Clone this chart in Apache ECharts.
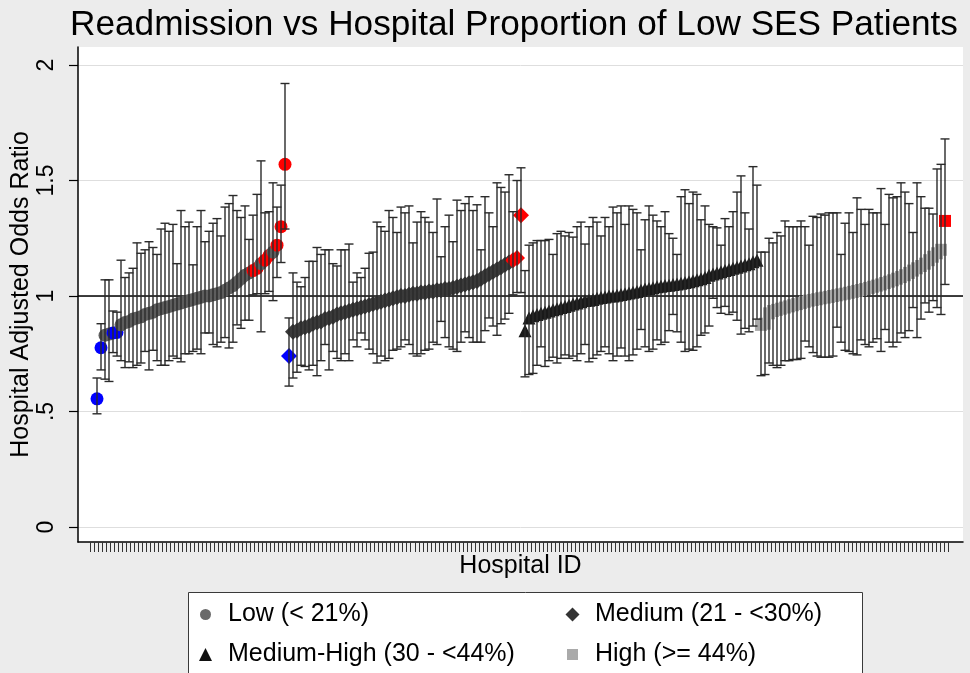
<!DOCTYPE html>
<html><head><meta charset="utf-8">
<script src="https://cdn.jsdelivr.net/npm/echarts@6/dist/echarts.min.js"></script>
<style>html,body{margin:0;padding:0;background:#ececec}#c{width:970px;height:673px}</style>
</head><body><div id="c"></div>
<script>
// ---- data ----
const groupNames = ['Low (< 21%)', 'Medium (21 - <30%)', 'Medium-High (30 - <44%)', 'High (>= 44%)'];
const yTickValues = [0, 0.5, 1, 1.5, 2];
const yTickLabels = ['0', '.5', '1', '1.5', '2'];
const hospitalTickCount = 215;

const lowStart = 1;
const lowEst = [0.555,0.776,0.83,0.835,0.84,0.842,0.875,0.885,0.89,0.90,0.905,0.91,0.92,0.925,0.93,0.94,0.945,0.95,0.955,0.96,0.965,0.97,0.975,0.98,0.985,0.99,0.995,1.0,1.0,1.005,1.01,1.015,1.025,1.035,1.045,1.06,1.075,1.09,1.10,1.11,1.12,1.14,1.155,1.175,1.19,1.22,1.30,1.57];
const lowLo = [0.49,0.68,0.64,0.63,0.755,0.74,0.72,0.69,0.715,0.69,0.70,0.71,0.76,0.68,0.765,0.72,0.70,0.70,0.72,0.74,0.73,0.715,0.75,0.75,0.76,0.77,0.75,0.84,0.84,0.79,0.78,0.80,0.82,0.775,0.80,0.875,0.86,0.895,0.895,1.005,1.01,0.845,1.01,1.02,0.98,1.08,1.145,1.29];
const lowHi = [0.645,0.88,1.07,1.07,0.935,0.93,1.155,1.08,1.10,1.12,1.23,1.185,1.20,1.235,1.21,1.18,1.29,1.315,1.28,1.31,1.14,1.37,1.30,1.32,1.135,1.30,1.37,1.235,1.28,1.315,1.335,1.26,1.385,1.40,1.435,1.37,1.34,1.39,1.245,1.35,1.44,1.585,1.36,1.365,1.49,1.385,1.48,1.92];

const medStart = 49;
const medEst = [0.74,0.845,0.85,0.86,0.865,0.87,0.88,0.885,0.89,0.90,0.905,0.91,0.92,0.925,0.93,0.935,0.94,0.945,0.95,0.955,0.96,0.965,0.97,0.975,0.98,0.985,0.99,0.995,1.0,1.0,1.005,1.01,1.01,1.015,1.015,1.02,1.02,1.025,1.025,1.03,1.03,1.035,1.04,1.045,1.05,1.055,1.06,1.065,1.075,1.085,1.095,1.105,1.115,1.125,1.135,1.145,1.155,1.165,1.35];
const medLo = [0.61,0.645,0.67,0.70,0.695,0.68,0.70,0.655,0.72,0.79,0.68,0.76,0.73,0.72,0.75,0.72,0.81,0.78,0.84,0.81,0.77,0.75,0.71,0.74,0.72,0.73,0.765,0.77,0.78,0.81,0.79,0.75,0.74,0.75,0.765,0.77,0.80,0.79,0.89,0.82,0.78,0.77,0.76,0.80,0.845,0.82,0.80,0.80,0.80,0.85,0.905,0.87,0.83,0.88,0.90,0.925,1.005,1.015,1.015];
const medHi = [0.905,1.10,1.06,1.04,1.08,1.15,1.15,1.21,1.18,1.20,1.20,1.14,1.13,1.20,1.20,1.225,1.06,1.10,1.08,1.12,1.185,1.19,1.32,1.30,1.28,1.37,1.34,1.275,1.385,1.36,1.39,1.23,1.32,1.365,1.34,1.32,1.275,1.42,1.17,1.30,1.35,1.235,1.415,1.37,1.40,1.43,1.37,1.395,1.20,1.43,1.36,1.30,1.49,1.47,1.45,1.525,1.365,1.50,1.555];

const mhStart = 108;
const mhEst = [0.85,0.905,0.915,0.92,0.925,0.93,0.935,0.94,0.945,0.95,0.955,0.96,0.965,0.97,0.975,0.98,0.982,0.985,0.99,0.993,0.996,1.0,1.0,1.003,1.006,1.01,1.013,1.016,1.02,1.025,1.03,1.033,1.036,1.04,1.042,1.045,1.047,1.05,1.052,1.055,1.058,1.062,1.066,1.07,1.075,1.08,1.09,1.095,1.10,1.105,1.11,1.115,1.12,1.125,1.13,1.135,1.14,1.148,1.155];
const mhLo = [0.65,0.66,0.665,0.70,0.78,0.695,0.72,0.735,0.71,0.73,0.745,0.73,0.74,0.72,0.75,0.79,0.715,0.73,0.745,0.76,0.78,0.75,0.72,0.74,0.775,0.74,0.72,0.745,0.77,0.855,0.78,0.76,0.77,0.81,0.79,0.80,0.85,0.92,0.845,0.80,0.76,0.77,0.765,0.78,0.83,0.84,0.87,0.99,0.95,0.925,0.955,0.92,0.93,0.895,0.835,0.86,0.845,0.87,0.90];
const mhHi = [1.11,1.22,1.23,1.24,1.24,1.24,1.245,1.18,1.27,1.28,1.26,1.275,1.255,1.30,1.32,1.225,1.30,1.34,1.32,1.26,1.34,1.30,1.385,1.36,1.39,1.31,1.39,1.375,1.36,1.20,1.33,1.39,1.35,1.325,1.30,1.365,1.27,1.25,1.18,1.43,1.46,1.40,1.45,1.44,1.33,1.39,1.31,1.30,1.295,1.22,1.335,1.30,1.365,1.45,1.52,1.36,1.29,1.56,1.48];

const highStart = 167;
const highEst = [0.875,0.88,0.925,0.935,0.94,0.945,0.95,0.955,0.96,0.965,0.97,0.975,0.98,0.983,0.986,0.99,0.993,0.996,1.0,1.003,1.007,1.01,1.014,1.018,1.022,1.026,1.03,1.035,1.04,1.045,1.05,1.056,1.062,1.068,1.075,1.082,1.09,1.10,1.11,1.12,1.13,1.14,1.155,1.17,1.185,1.20,1.325];
const highLo = [0.655,0.66,0.71,0.70,0.69,0.70,0.72,0.72,0.725,0.725,0.73,0.805,0.78,0.755,0.74,0.735,0.735,0.735,0.74,0.865,0.80,0.765,0.76,0.75,0.745,0.81,0.79,0.78,0.80,0.815,0.76,0.855,0.80,0.78,0.80,0.84,0.82,0.85,0.95,0.82,0.90,0.97,0.93,0.98,0.95,0.92,1.05];
const highHi = [1.19,1.19,1.25,1.23,1.275,1.26,1.325,1.30,1.30,1.30,1.325,1.30,1.22,1.345,1.34,1.355,1.35,1.36,1.36,1.36,1.18,1.315,1.36,1.275,1.425,1.375,1.31,1.375,1.36,1.36,1.465,1.31,1.44,1.425,1.43,1.49,1.45,1.40,1.275,1.49,1.43,1.38,1.38,1.355,1.55,1.57,1.68];

// ---- build ----
const FONT = 'Liberation Sans, Arial, sans-serif';
const groups = [
  {name: groupNames[0], start: lowStart, est: lowEst, lo: lowLo, hi: lowHi, symbol: 'circle', size: 13, color: '#5e5e5e', legendColor: '#6a6a6a', legendSize: 11},
  {name: groupNames[1], start: medStart, est: medEst, lo: medLo, hi: medHi, symbol: 'diamond', size: 16, color: '#3a3a3a', legendColor: '#333', legendSize: 14},
  {name: groupNames[2], start: mhStart, est: mhEst, lo: mhLo, hi: mhHi, symbol: 'triangle', size: 13, color: '#1a1a1a', legendColor: '#111', legendSize: 13},
  {name: groupNames[3], start: highStart, est: highEst, lo: highLo, hi: highHi, symbol: 'rect', size: 12, color: '#a8a8a8', legendColor: '#aaa', legendSize: 11}
];

const ciData = [];
const series = [];
groups.forEach((g, gi) => {
  const pts = g.est.map((v, i) => {
    const id = g.start + i;
    ciData.push([id, g.lo[i], g.hi[i]]);
    let c = g.color;
    if (g.lo[i] > 1) c = '#ff0000';
    else if (g.hi[i] < 1) c = '#0000ff';
    return {value: [id, v], itemStyle: {color: c}};
  });
  const s = {
    name: g.name, type: 'scatter', xAxisIndex: 0, yAxisIndex: 0,
    symbol: g.symbol, symbolSize: g.size, data: pts, z: 3,
    itemStyle: {color: g.color, opacity: 1}, emphasis: {disabled: true}, silent: true
  };
  if (gi === 0) {
    s.markLine = {silent: true, symbol: ['none', 'none'], label: {show: false},
      lineStyle: {color: '#000', width: 1.5, type: 'solid'}, data: [{yAxis: 1}], z: 2};
  }
  series.push(s);
});
series.push({
  name: 'CI', type: 'custom', xAxisIndex: 0, yAxisIndex: 0, z: 4, silent: true,
  encode: {x: 0, y: [1, 2]}, data: ciData,
  renderItem: function (params, api) {
    const x = api.value(0), lo = api.value(1), hi = api.value(2);
    const t = api.coord([x, hi]), b = api.coord([x, lo]);
    const w = 4.5;
    const st = {stroke: '#2a2a2a', lineWidth: 1.4};
    return {type: 'group', children: [
      {type: 'line', shape: {x1: t[0], y1: t[1], x2: b[0], y2: b[1]}, style: st},
      {type: 'line', shape: {x1: t[0] - w, y1: t[1], x2: t[0] + w, y2: t[1]}, style: st},
      {type: 'line', shape: {x1: b[0] - w, y1: b[1], x2: b[0] + w, y2: b[1]}, style: st}
    ]};
  }
});

const tickCats = [];
for (let i = 1; i <= hospitalTickCount; i++) tickCats.push(String(i));

const legendPos = [[199, 602], [566, 602], [199, 642], [566, 642]];
const legends = groups.map((g, i) => ({
  data: [{name: g.name, itemStyle: {color: g.legendColor}}],
  left: legendPos[i][0] + (13 - g.legendSize) / 2, top: legendPos[i][1], padding: 0,
  itemWidth: g.legendSize, itemHeight: g.legendSize, selectedMode: false,
  textStyle: {fontSize: 25, color: '#000', fontFamily: FONT, padding: [0, 0, 0, 11 + (13 - g.legendSize) / 2]}
}));

const chart = echarts.init(document.getElementById('c'), null, {renderer: 'canvas'});
chart.setOption({
  backgroundColor: '#ececec',
  animation: false,
  title: {
    text: 'Readmission vs Hospital Proportion of Low SES Patients',
    left: 509, top: 3, textAlign: 'center',
    textStyle: {fontSize: 35.2, fontWeight: 'normal', color: '#000', fontFamily: FONT}
  },
  legend: legends,
  graphic: [{
    type: 'rect', left: 188, top: 592, z: -10,
    shape: {width: 674, height: 100},
    style: {fill: '#ffffff', stroke: '#3a3a3a', lineWidth: 1}
  }],
  grid: [
    {left: 78, right: 7, top: 47, bottom: 131, show: true, backgroundColor: '#fff', borderWidth: 0},
    {left: 78, right: 7, top: 65, bottom: 146},
    {left: 90, right: 22, top: 47, bottom: 131}
  ],
  xAxis: [
    {type: 'value', gridIndex: 0, min: -3.75, max: 217.5,
      axisLine: {show: true, onZero: false, lineStyle: {color: '#000', width: 1.5}},
      axisTick: {show: false}, axisLabel: {show: false}, splitLine: {show: false},
      name: 'Hospital ID', nameLocation: 'middle', nameGap: 12,
      nameTextStyle: {fontSize: 25, color: '#000', fontFamily: FONT}},
    {type: 'value', gridIndex: 1, min: -3.75, max: 217.5, show: false},
    {type: 'category', gridIndex: 2, data: tickCats, boundaryGap: false,
      axisLine: {show: false, onZero: false},
      axisTick: {show: true, interval: 0, length: 10, lineStyle: {color: '#333', width: 1}},
      axisLabel: {show: false}, splitLine: {show: false}}
  ],
  yAxis: [
    {type: 'value', gridIndex: 0, min: -0.065, max: 2.078,
      axisLine: {show: true, onZero: false, lineStyle: {color: '#000', width: 1.5}},
      axisTick: {show: false}, axisLabel: {show: false}, splitLine: {show: false},
      name: 'Hospital Adjusted Odds Ratio', nameLocation: 'middle', nameGap: 44, nameRotate: 90,
      nameTextStyle: {fontSize: 25, color: '#000', fontFamily: FONT}},
    {type: 'value', gridIndex: 1, min: yTickValues[0], max: yTickValues[yTickValues.length - 1], interval: 0.5,
      axisLine: {show: false, onZero: false},
      axisTick: {show: true, length: 9, lineStyle: {color: '#000', width: 1.2}},
      axisLabel: {show: true, rotate: 90, margin: 20, fontSize: 23, color: '#000', fontFamily: FONT,
        formatter: function (v) { const k = yTickValues.indexOf(v); return k >= 0 ? yTickLabels[k] : ''; }},
      splitLine: {show: true, lineStyle: {color: '#dedede', width: 1}}},
    {type: 'value', gridIndex: 2, show: false}
  ],
  series: series
});
</script>
</body></html>
